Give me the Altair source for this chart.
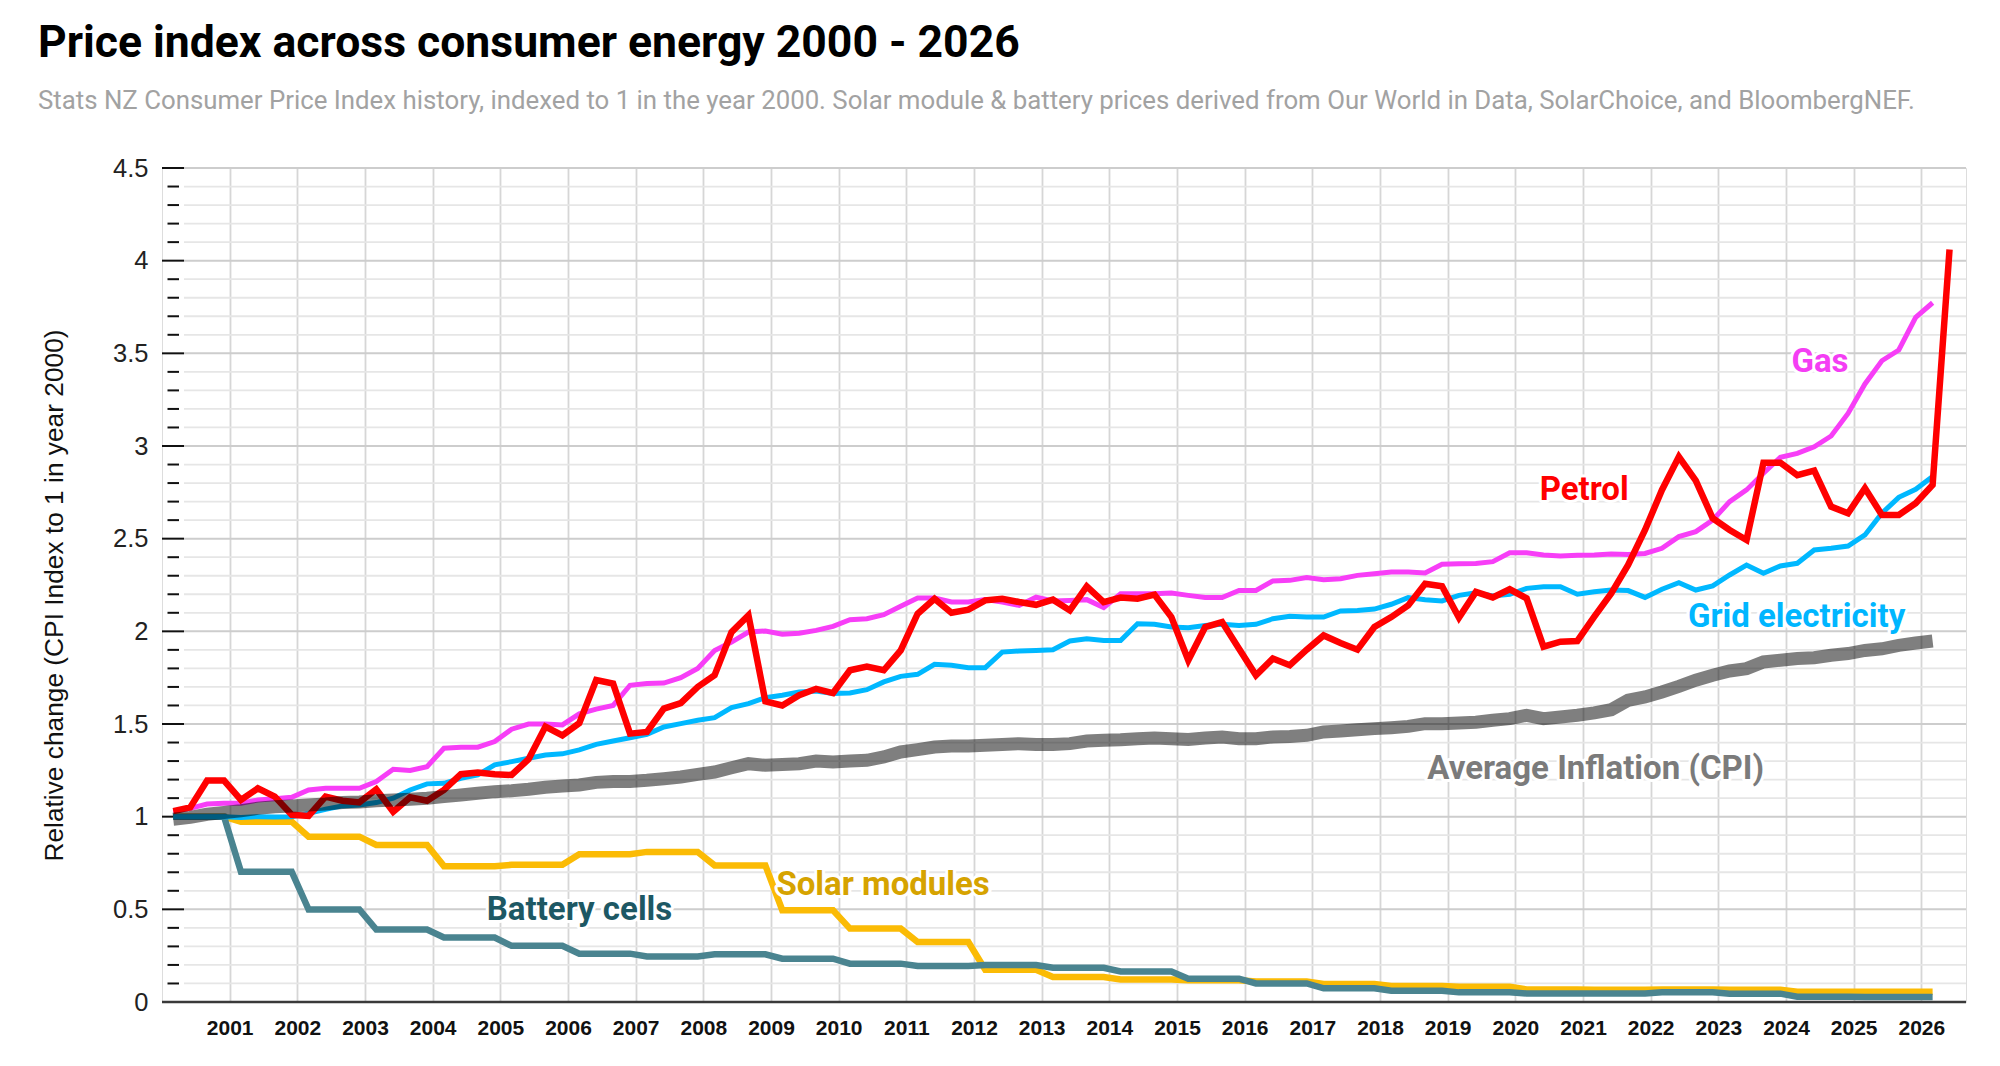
import altair as alt
import pandas as pd

# ---------------- data ----------------
# quarterly observations, March 2000 .. June 2026 (petrol has one extra point)
quarters = [(y, m) for y in range(2000, 2027) for m in (3, 6, 9, 12)][:106]

petrol = [1.03, 1.05, 1.195, 1.195, 1.09, 1.153, 1.108, 1.01, 1.004, 1.108,
          1.086, 1.077, 1.148, 1.027, 1.105, 1.086, 1.144, 1.229, 1.238, 1.229,
          1.225, 1.31, 1.486, 1.438, 1.505, 1.737, 1.718, 1.448, 1.457, 1.583,
          1.613, 1.70, 1.763, 1.996, 2.086, 1.622, 1.60, 1.655, 1.69, 1.667,
          1.79, 1.81, 1.79, 1.897, 2.095, 2.176, 2.10, 2.117, 2.167, 2.176,
          2.158, 2.143, 2.171, 2.113, 2.243, 2.158, 2.182, 2.176, 2.198, 2.077,
          1.844, 2.023, 2.05, 1.906, 1.763, 1.853, 1.817, 1.901, 1.978, 1.937,
          1.901, 2.023, 2.077, 2.14, 2.257, 2.243, 2.074, 2.213, 2.183, 2.227,
          2.178, 1.917, 1.944, 1.948, 2.079, 2.205, 2.358, 2.547, 2.763, 2.942,
          2.813, 2.61, 2.547, 2.493, 2.91, 2.91, 2.843, 2.867, 2.673, 2.637,
          2.772, 2.628, 2.628, 2.691, 2.79, 4.06]

gas = [1.03, 1.045, 1.068, 1.072, 1.072, 1.09, 1.097, 1.105, 1.144, 1.153,
       1.153, 1.153, 1.19, 1.256, 1.249, 1.27, 1.369, 1.375, 1.375, 1.405,
       1.472, 1.50, 1.50, 1.495, 1.555, 1.58, 1.60, 1.709, 1.718, 1.721,
       1.75, 1.80, 1.897, 1.942, 1.996, 2.002, 1.984, 1.99, 2.005, 2.027,
       2.063, 2.068, 2.09, 2.135, 2.18, 2.18, 2.158, 2.158, 2.171, 2.158,
       2.14, 2.184, 2.164, 2.167, 2.171, 2.128, 2.203, 2.203, 2.203, 2.207,
       2.194, 2.182, 2.182, 2.221, 2.221, 2.272, 2.275, 2.29, 2.279, 2.284,
       2.302, 2.311, 2.32, 2.32, 2.315, 2.362, 2.365, 2.366, 2.376, 2.424,
       2.424, 2.412, 2.406, 2.41, 2.412, 2.417, 2.414, 2.42, 2.448, 2.511,
       2.538, 2.60, 2.70, 2.763, 2.853, 2.939, 2.96, 2.996, 3.054, 3.176,
       3.335, 3.46, 3.518, 3.694, 3.773]

electricity = [1.0, 1.0, 1.0, 1.0, 0.996, 1.0, 0.998, 1.0, 1.018, 1.04,
               1.058, 1.063, 1.076, 1.10, 1.144, 1.177, 1.18, 1.207, 1.225, 1.28,
               1.297, 1.315, 1.333, 1.339, 1.36, 1.39, 1.408, 1.426, 1.444, 1.484,
               1.502, 1.52, 1.534, 1.588, 1.61, 1.642, 1.655, 1.673, 1.678, 1.664,
               1.667, 1.685, 1.727, 1.757, 1.768, 1.822, 1.817, 1.804, 1.804, 1.888,
               1.894, 1.897, 1.901, 1.948, 1.96, 1.951, 1.951, 2.041, 2.038, 2.023,
               2.02, 2.032, 2.038, 2.032, 2.038, 2.068, 2.081, 2.077, 2.077, 2.11,
               2.113, 2.12, 2.146, 2.182, 2.171, 2.164, 2.194, 2.208, 2.191, 2.20,
               2.232, 2.241, 2.241, 2.20, 2.214, 2.223, 2.22, 2.183, 2.227, 2.263,
               2.223, 2.245, 2.304, 2.358, 2.313, 2.353, 2.367, 2.439, 2.448, 2.46,
               2.52, 2.637, 2.723, 2.766, 2.835]

cpi = [0.986, 0.996, 1.013, 1.022, 1.032, 1.045, 1.054, 1.058, 1.063, 1.068,
       1.076, 1.079, 1.086, 1.09, 1.094, 1.099, 1.108, 1.117, 1.126, 1.135,
       1.14, 1.148, 1.159, 1.166, 1.171, 1.185, 1.19, 1.19, 1.196, 1.205,
       1.214, 1.228, 1.241, 1.264, 1.286, 1.277, 1.281, 1.286, 1.30, 1.295,
       1.30, 1.304, 1.322, 1.349, 1.362, 1.376, 1.381, 1.381, 1.385, 1.39,
       1.394, 1.39, 1.39, 1.394, 1.408, 1.412, 1.415, 1.421, 1.424, 1.421,
       1.417, 1.424, 1.43, 1.421, 1.421, 1.43, 1.433, 1.439, 1.457, 1.462,
       1.469, 1.475, 1.48, 1.487, 1.502, 1.502, 1.505, 1.51, 1.52, 1.529,
       1.547, 1.529, 1.538, 1.547, 1.56, 1.577, 1.628, 1.646, 1.673, 1.703,
       1.736, 1.763, 1.786, 1.799, 1.835, 1.844, 1.853, 1.858, 1.871, 1.88,
       1.897, 1.906, 1.924, 1.937, 1.948]

# annual step values 2000 .. 2026
solar_annual = [1.0, 0.973, 0.892, 0.847, 0.733, 0.74, 0.797, 0.81, 0.737, 0.495,
                0.396, 0.324, 0.174, 0.135, 0.122, 0.117, 0.11, 0.097, 0.087, 0.082,
                0.068, 0.066, 0.068, 0.066, 0.055, 0.055, 0.055]
battery_annual = [1.0, 0.703, 0.499, 0.391, 0.348, 0.303, 0.261, 0.246, 0.257, 0.234,
                  0.207, 0.194, 0.20, 0.185, 0.165, 0.126, 0.100, 0.074, 0.061, 0.052,
                  0.046, 0.046, 0.052, 0.045, 0.028, 0.027, 0.027]

x_ticks = list(range(2001, 2027))
y_major = [0.5, 1, 1.5, 2, 2.5, 3, 3.5, 4, 4.5]
y_minor = [round(i / 10, 1) for i in range(1, 46) if i % 5 != 0]
y_labels = [0] + y_major

label_text = ["Gas", "Petrol", "Grid electricity", "Average Inflation (CPI)",
              "Solar modules", "Battery cells"]
label_x = [2024.08, 2020.36, 2022.55, 2018.70, 2009.08, 2004.80]
label_y = [3.40, 2.711, 2.024, 1.202, 0.576, 0.443]
label_color = ["#f43ef4", "#ff0000", "#00b6ff", "#7b7b7b", "#d6a300", "#1d5864"]

# ---------------- tables ----------------
def decimal_year(q):
    y, m = q
    return y + (m - 1) / 12


def series_df(values):
    return pd.DataFrame({"t": [decimal_year(q) for q in quarters[:len(values)]],
                         "v": values})


solar = [solar_annual[y - 2000] for (y, m) in quarters[:105]]
battery = [battery_annual[y - 2000] for (y, m) in quarters[:105]]

W, H = 1804, 834
xscale = alt.Scale(domain=[2000, 2026.66], nice=False, zero=False)
yscale = alt.Scale(domain=[0, 4.5], nice=False, zero=True)

xaxis = alt.Axis(values=x_ticks, format="d", grid=True, gridColor="#d6d6d6",
                 gridWidth=1.8, ticks=False, tickSize=0, domain=False,
                 labelPadding=15, labelFont="Liberation Sans", labelFontSize=21,
                 labelFontWeight="bold", labelColor="#111111", labelFlush=False,
                 labelOverlap=False, title=None)
yaxis = alt.Axis(values=y_labels, format=".1~f", grid=False, ticks=False, tickSize=0,
                 domain=False, labelPadding=14, labelFont="Liberation Sans",
                 labelFontSize=25.5, labelColor="#222222",
                 title="Relative change (CPI Index to 1 in year 2000)",
                 titleFont="Liberation Sans", titleFontSize=26.3, titleFontWeight="normal",
                 titleColor="#111111", titleX=-100, titleY=427,
                 titleBaseline="alphabetic", titleAlign="center")


def X(field="t"):
    return alt.X(f"{field}:Q", scale=xscale, axis=xaxis)


def Y(field="v"):
    return alt.Y(f"{field}:Q", scale=yscale, axis=yaxis)


minor_df = pd.DataFrame({"v": y_minor})
major_df = pd.DataFrame({"v": y_major})
zero_df = pd.DataFrame({"v": [0]})
tick_major_df = pd.DataFrame({"v": y_labels})

grid_minor = alt.Chart(minor_df).mark_rule(color="#e6e6e6", strokeWidth=1.8).encode(
    y=Y(), x=alt.value(22), x2=alt.value(W))
grid_major = alt.Chart(major_df).mark_rule(color="#cdcdcd", strokeWidth=2).encode(
    y=Y(), x=alt.value(22), x2=alt.value(W))
tick_minor = alt.Chart(minor_df).mark_rule(color="#111111", strokeWidth=2).encode(
    y=Y(), x=alt.value(5.5), x2=alt.value(17))
tick_major = alt.Chart(tick_major_df).mark_rule(color="#111111", strokeWidth=2).encode(
    y=Y(), x=alt.value(0), x2=alt.value(22))
baseline = alt.Chart(zero_df).mark_rule(color="#3a3a3a", strokeWidth=2.5).encode(
    y=Y(), x=alt.value(0), x2=alt.value(W))


def line(values, color, width, opacity=1.0):
    return alt.Chart(series_df(values)).mark_line(
        color=color, strokeWidth=width, opacity=opacity, strokeJoin="miter"
    ).encode(x=X(), y=Y())


solar_line = line(solar, "#fbbb05", 6.5)
battery_line = line(battery, "#4a8490", 6.5)
gas_line = line(gas, "#f73ef7", 5)
elec_line = line(electricity, "#00b8ff", 5)
petrol_line = line(petrol, "#ff0000", 6.5)
cpi_line = line(cpi, "#000000", 13, opacity=0.5)

labels_df = pd.DataFrame({"label": label_text, "t": label_x, "v": label_y,
                          "c": label_color})
halo = alt.Chart(labels_df).mark_text(
    align="left", baseline="alphabetic", font="Roboto", fontSize=33,
    fontWeight="bold", stroke="white", strokeWidth=6, strokeJoin="round"
).encode(x=X(), y=Y(), text="label:N", fill=alt.value("white"))
labels = alt.Chart(labels_df).mark_text(
    align="left", baseline="alphabetic", font="Roboto", fontSize=33,
    fontWeight="bold"
).encode(x=X(), y=Y(), text="label:N", color=alt.Color("c:N", scale=None))

chart = alt.layer(
    grid_minor, grid_major, tick_minor, tick_major,
    solar_line, battery_line, gas_line, elec_line, petrol_line, cpi_line,
    baseline, halo, labels
).properties(
    width=W, height=H,
    padding={"left": 154, "top": 160, "right": 26, "bottom": 50},
    autosize=alt.AutoSizeParams(type="none"),
    title=alt.TitleParams(
        text="Price index across consumer energy 2000 - 2026",
        subtitle="Stats NZ Consumer Price Index history, indexed to 1 in the year 2000. "
                 "Solar module & battery prices derived from Our World in Data, "
                 "SolarChoice, and BloombergNEF.",
        anchor="start", frame="group", dx=-124, offset=41.5,
        font="Roboto", fontSize=44.5, fontWeight="bold", color="#000000",
        subtitleFont="Roboto", subtitleFontSize=25.8, subtitleColor="#a2a2a2",
        subtitlePadding=22.5,
    ),
).configure_view(stroke=None).configure(background="white")

chart.save("out.html", embed_options={"renderer": "svg", "actions": False})
